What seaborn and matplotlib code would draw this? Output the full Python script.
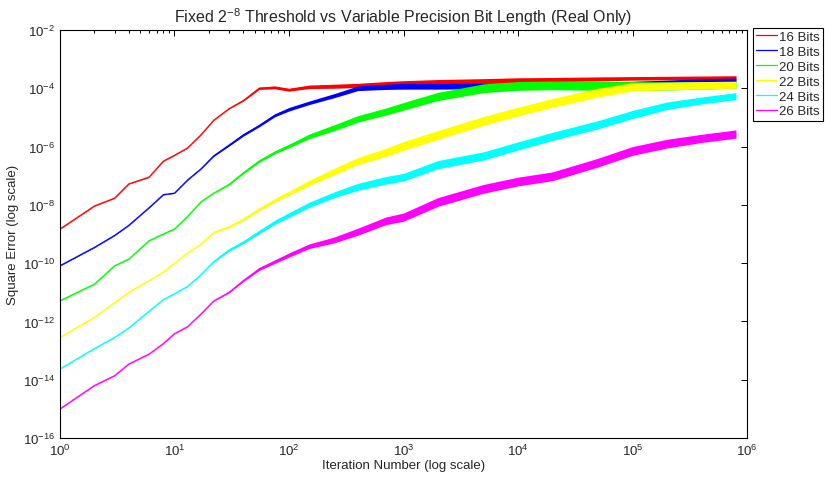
import numpy as np
import pandas as pd
import matplotlib
matplotlib.use("Agg")
import matplotlib.pyplot as plt
import matplotlib.ticker as mticker
import seaborn as sns

iterations = [1, 2, 3, 4, 6, 8, 10, 13, 17, 22, 30, 40, 55, 75, 100, 150, 250,
              400, 700, 1e3, 2e3, 5e3, 1e4, 2e4, 5e4, 1e5, 2e5, 4e5, 8e5]

bit_labels = ["16 Bits", "18 Bits", "20 Bits", "22 Bits", "24 Bits", "26 Bits"]
colors = ["#ff0000", "#0000ff", "#00ff00", "#ffff00", "#00ffff", "#ff00ff"]

# log10(square error), centre of each trace
log_err_16 = [-8.83, -8.04, -7.77, -7.28, -7.05, -6.5, -6.3, -6.05, -5.6, -5.1, -4.7, -4.42, -4.0,
              -3.97, -4.05, -3.95, -3.93, -3.9, -3.85, -3.82, -3.78, -3.75, -3.72, -3.7, -3.68,
              -3.66, -3.65, -3.64, -3.63]
log_err_18 = [-10.09, -9.46, -9.05, -8.7, -8.1, -7.65, -7.6, -7.15, -6.77, -6.32, -5.95, -5.6, -5.28,
              -4.93, -4.72, -4.5, -4.25, -4.0, -3.95, -3.93, -3.93, -3.92, -3.92, -3.9, -3.88,
              -3.85, -3.8, -3.75, -3.72]
log_err_20 = [-11.29, -10.72, -10.09, -9.86, -9.23, -9.0, -8.83, -8.4, -7.9, -7.6, -7.3, -6.9, -6.5,
              -6.2, -5.98, -5.65, -5.35, -5.05, -4.8, -4.62, -4.28, -4.0, -3.92, -3.9, -3.92,
              -3.92, -3.92, -3.9, -3.88]
log_err_22 = [-12.55, -11.86, -11.35, -11.0, -10.6, -10.3, -10.0, -9.65, -9.35, -8.95, -8.75, -8.5,
              -8.15, -7.85, -7.6, -7.25, -6.85, -6.5, -6.2, -5.98, -5.6, -5.12, -4.8, -4.5, -4.15,
              -3.95, -3.92, -3.9, -3.88]
log_err_24 = [-13.63, -12.93, -12.55, -12.22, -11.65, -11.25, -11.05, -10.8, -10.4, -9.95, -9.55,
              -9.28, -8.93, -8.6, -8.35, -8.0, -7.65, -7.38, -7.16, -7.05, -6.62, -6.32, -5.98,
              -5.65, -5.25, -4.9, -4.6, -4.42, -4.27]
log_err_26 = [-15.0, -14.2, -13.86, -13.46, -13.12, -12.76, -12.42, -12.18, -11.75, -11.3, -11.0,
              -10.6, -10.2, -9.95, -9.72, -9.42, -9.2, -8.92, -8.55, -8.42, -7.9, -7.45, -7.2,
              -7.02, -6.55, -6.15, -5.9, -5.72, -5.57]

# half width of the noisy band around each trace (decades)
spread_16 = [0.01] * 11 + [0.02, 0.04, 0.05, 0.05, 0.06, 0.07, 0.07, 0.08, 0.08, 0.08, 0.08, 0.08,
                           0.07, 0.07, 0.06, 0.06, 0.06, 0.06]
spread_18 = [0.01] * 9 + [0.02, 0.03, 0.04, 0.04, 0.05, 0.06, 0.06, 0.07, 0.08, 0.09, 0.1, 0.1,
                          0.1, 0.1, 0.1, 0.1, 0.09, 0.08, 0.08, 0.07]
spread_20 = [0.01] * 10 + [0.02, 0.03, 0.04, 0.05, 0.06, 0.08, 0.1, 0.11, 0.12, 0.13, 0.14, 0.15,
                           0.15, 0.15, 0.15, 0.15, 0.14, 0.13, 0.12]
spread_22 = [0.01] * 9 + [0.02, 0.03, 0.04, 0.05, 0.06, 0.07, 0.09, 0.11, 0.12, 0.14, 0.15, 0.15,
                          0.15, 0.15, 0.15, 0.15, 0.14, 0.13, 0.13, 0.12]
spread_24 = [0.01] * 9 + [0.02, 0.04, 0.05, 0.06, 0.07, 0.08, 0.09, 0.1, 0.12, 0.13, 0.13, 0.14,
                          0.14, 0.14, 0.14, 0.14, 0.14, 0.13, 0.12, 0.12]
spread_26 = [0.01] * 10 + [0.02, 0.03, 0.05, 0.06, 0.07, 0.08, 0.1, 0.12, 0.13, 0.14, 0.15, 0.15,
                           0.15, 0.15, 0.15, 0.15, 0.15, 0.14, 0.14]

log_errs = [log_err_16, log_err_18, log_err_20, log_err_22, log_err_24, log_err_26]
spreads = [spread_16, spread_18, spread_20, spread_22, spread_24, spread_26]

rows = []
for lab, le in zip(bit_labels, log_errs):
    for it, v in zip(iterations, le):
        rows.append({"iteration": it, "error": 10.0 ** v, "bits": lab})
df = pd.DataFrame(rows)

sns.set_style("white")
plt.rcParams["font.family"] = ["Liberation Sans", "DejaVu Sans"]
plt.rcParams["mathtext.fontset"] = "custom"
plt.rcParams["mathtext.rm"] = "Liberation Sans"
plt.rcParams["mathtext.it"] = "Liberation Sans:italic"
plt.rcParams["mathtext.bf"] = "Liberation Sans:bold"

fig = plt.figure(figsize=(8.25, 4.81), dpi=100)
ax = fig.add_axes([0.0727, 0.0873, 0.8328, 0.8483])

sns.lineplot(data=df, x="iteration", y="error", hue="bits", hue_order=bit_labels,
             palette=colors, estimator=None, sort=False, linewidth=0.9, ax=ax)

for i, (le, sp, c) in enumerate(zip(log_errs, spreads, colors)):
    le = np.array(le)
    sp = np.array(sp)
    ax.fill_between(iterations, 10.0 ** (le - sp), 10.0 ** (le + sp), color=c,
                    linewidth=0, zorder=2 + i * 0.1)

ax.set_xscale("log")
ax.set_yscale("log")
ax.set_xlim(1, 1e6)
ax.set_ylim(1e-16, 1e-2)
ax.xaxis.set_major_locator(mticker.LogLocator(base=10, numticks=10))
ax.xaxis.set_minor_locator(mticker.LogLocator(base=10, subs=np.arange(2, 10), numticks=20))
ax.yaxis.set_major_locator(mticker.FixedLocator([10.0 ** k for k in range(-16, -1, 2)]))
ax.yaxis.set_minor_locator(mticker.NullLocator())
ax.xaxis.set_major_formatter(mticker.LogFormatterMathtext())
ax.yaxis.set_major_formatter(mticker.LogFormatterMathtext())
ax.tick_params(which="both", direction="in", top=True, right=True, labelsize=9.5,
               color="black", width=0.7)
ax.tick_params(which="major", length=4)
ax.tick_params(which="minor", length=2.5)
for s in ax.spines.values():
    s.set_color("black")
    s.set_linewidth(0.8)

ax.set_title("Fixed $2^{-8}$ Threshold vs Variable Precision Bit Length (Real Only)",
             fontsize=11.5, pad=6)
ax.set_xlabel("Iteration Number (log scale)", fontsize=9.5, labelpad=1)
ax.set_ylabel("Square Error (log scale)", fontsize=9.5, labelpad=3)

ax.legend(loc="upper left", bbox_to_anchor=(1.008, 1.006), borderaxespad=0,
          fontsize=9.5, frameon=True, fancybox=False, edgecolor="black",
          handlelength=1.6, handletextpad=0.15, labelspacing=0.2, borderpad=0.25,
          framealpha=1)
ax.get_legend().get_frame().set_linewidth(0.8)

fig.savefig("out.png", dpi=100)
